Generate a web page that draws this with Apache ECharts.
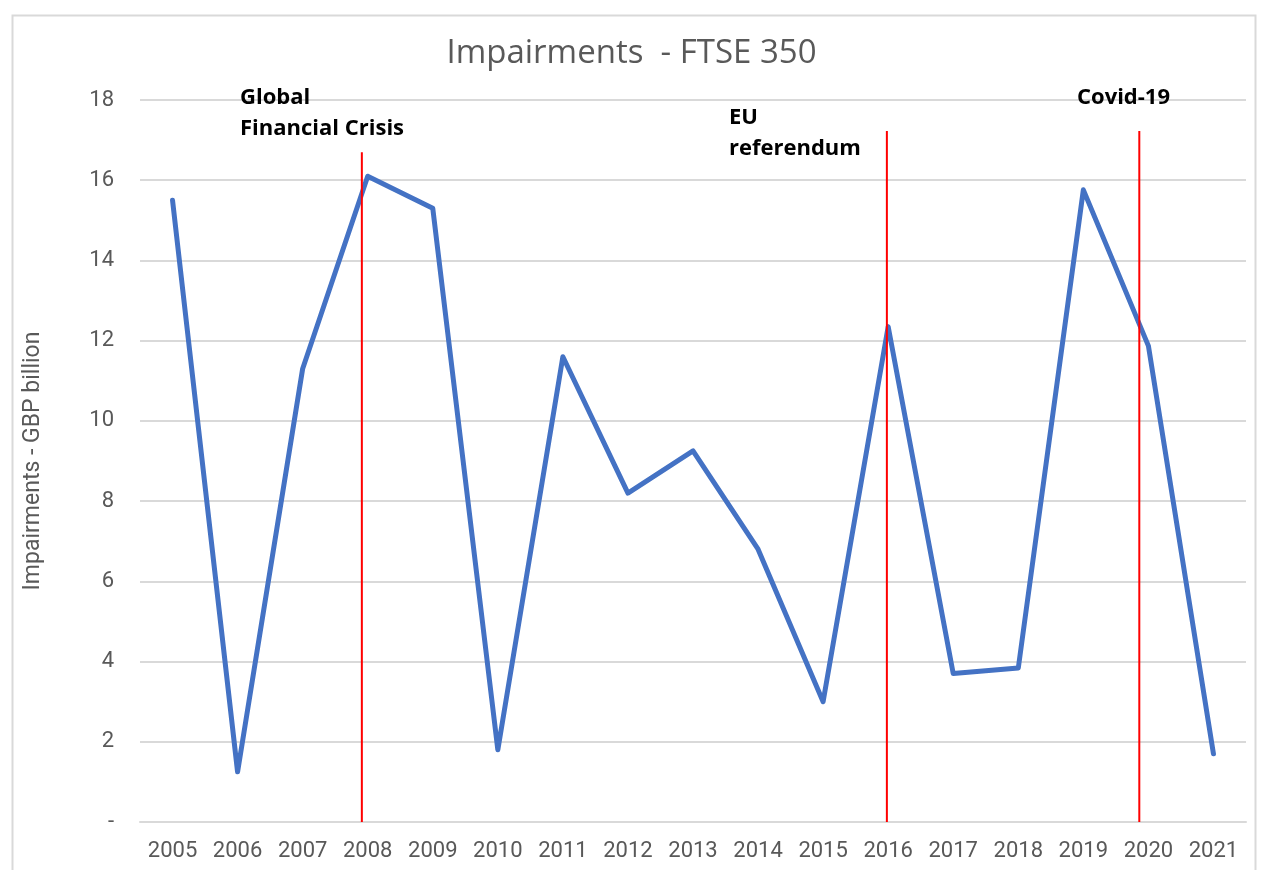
<!DOCTYPE html>
<html>
<head>
<meta charset="utf-8">
<script src="https://cdn.jsdelivr.net/npm/echarts@6/dist/echarts.min.js"></script>
<style>
html,body{margin:0;padding:0;background:#fff;}
#chart{width:1263px;height:870px;}
</style>
</head>
<body>
<div id="chart"></div>
<script>
var years = ['2005','2006','2007','2008','2009','2010','2011','2012','2013','2014','2015','2016','2017','2018','2019','2020','2021'];
var impairments = [15.5,1.25,11.3,16.1,15.3,1.8,11.6,8.2,9.25,6.8,3.0,12.35,3.7,3.84,15.76,11.87,1.7];
var eventNames = ['Global\nFinancial Crisis','EU\nreferendum','Covid-19'];
var eventPos = [2007.91,2015.98,2019.86];
var eventTop = [16.7,17.23,17.23];

var chart = echarts.init(document.getElementById('chart'));

var series = [{
	type:'line',
	data:impairments,
	symbol:'none',
	lineStyle:{color:'#4472C4',width:5,cap:'round',join:'round'},
	z:3
}];
for(var i=0;i<eventPos.length;i++){
	series.push({
		type:'line',
		xAxisIndex:1,
		symbol:'none',
		data:[[eventPos[i],0],[eventPos[i],eventTop[i]]],
		lineStyle:{color:'#ff0000',width:2},
		z:4
	});
}

var option = {
	animation:false,
	title:{
		text:'Impairments  - FTSE 350',
		left:'center',
		top:32,
		textStyle:{fontFamily:'Open Sans',fontWeight:'normal',fontSize:33,color:'#595959'}
	},
	grid:{left:140,right:17,top:100,bottom:48},
	xAxis:[{
		type:'category',
		data:years,
		boundaryGap:true,
		axisLine:{lineStyle:{color:'#d9d9d9',width:2}},
		axisTick:{inside:true,length:7,lineStyle:{color:'#d9d9d9',width:2}},
		axisLabel:{fontFamily:'Roboto',fontSize:22,color:'#595959',margin:18}
	},{
		type:'value',
		min:2004.5,
		max:2021.5,
		show:false
	}],
	yAxis:{
		type:'value',
		min:0,
		max:18,
		interval:2,
		name:'Impairments - GBP billion',
		nameLocation:'middle',
		nameGap:95,
		nameTextStyle:{fontFamily:'Roboto',fontSize:23,color:'#595959'},
		axisLine:{show:false},
		axisTick:{show:false},
		splitLine:{lineStyle:{color:'#d9d9d9',width:2}},
		axisLabel:{
			fontFamily:'Roboto',fontSize:22,color:'#595959',margin:26,
			formatter:function(v){return v===0?'-':String(v);}
		}
	},
	graphic:[
		{type:'rect',left:10,top:13,shape:{width:1243,height:870},style:{fill:'none',stroke:'#d9d9d9',lineWidth:2},silent:true},
		{type:'text',left:240,top:82,z:10,style:{text:eventNames[0],font:'bold 22px "Open Sans"',fill:'#000',lineHeight:31}},
		{type:'text',left:729,top:102,z:10,style:{text:eventNames[1],font:'bold 22px "Open Sans"',fill:'#000',lineHeight:31}},
		{type:'text',left:1077,top:82,z:10,style:{text:eventNames[2],font:'bold 22px "Open Sans"',fill:'#000',lineHeight:31}}
	],
	series:series
};
chart.setOption(option);
</script>
</body>
</html>
